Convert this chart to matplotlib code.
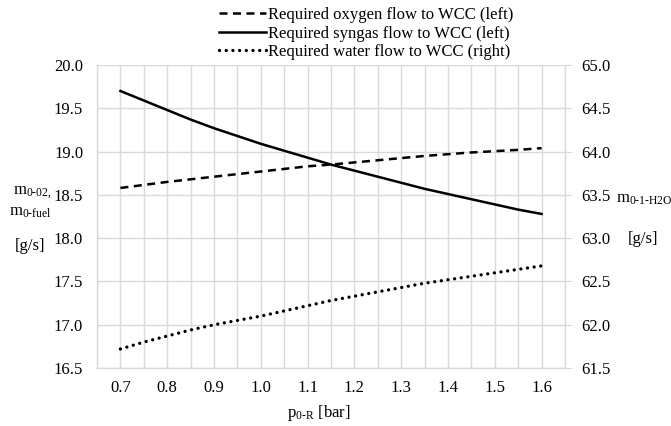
import numpy as np
import matplotlib
matplotlib.use("Agg")
import matplotlib.pyplot as plt
from matplotlib.ticker import MultipleLocator, FormatStrFormatter

plt.rcParams["font.family"] = ["Liberation Serif", "DejaVu Serif"]
plt.rcParams["mathtext.fontset"] = "custom"
plt.rcParams["mathtext.rm"] = "Liberation Serif"
plt.rcParams["mathtext.it"] = "Liberation Serif:italic"

# reactor pressure [bar]
pressure = [0.70, 0.75, 0.80, 0.85, 0.90, 0.95, 1.00, 1.05, 1.10, 1.15,
            1.20, 1.25, 1.30, 1.35, 1.40, 1.45, 1.50, 1.55, 1.60]
# mass flows [g/s]
oxygen_flow = [18.58, 18.615, 18.65, 18.68, 18.71, 18.74, 18.77, 18.80, 18.83, 18.85,
               18.875, 18.90, 18.925, 18.95, 18.97, 18.99, 19.005, 19.02, 19.04]
syngas_flow = [19.70, 19.59, 19.48, 19.37, 19.27, 19.18, 19.09, 19.01, 18.93, 18.85,
               18.78, 18.71, 18.64, 18.57, 18.51, 18.45, 18.39, 18.33, 18.28]
water_flow = [61.72, 61.80, 61.87, 61.94, 62.00, 62.05, 62.10, 62.16, 62.22, 62.28,
              62.33, 62.38, 62.43, 62.48, 62.52, 62.56, 62.60, 62.64, 62.68]

grid_c = "#D9D9D9"
fs = 12

fig = plt.figure(figsize=(6.71, 4.26), dpi=100)
ax = fig.add_axes([0.1446, 0.136, 0.6974, 0.7114])
ax2 = ax.twinx()

l1, = ax.plot(pressure, oxygen_flow, color="black", lw=1.8, linestyle=(0, (3.2, 2.2)))
l2, = ax.plot(pressure, syngas_flow, color="black", lw=1.8)
l3, = ax2.plot(pressure, water_flow, color="black", lw=2.4,
               linestyle=(0, (0.01, 2.0)), dash_capstyle="round")

ax.set_xlim(0.65, 1.65)
ax.set_ylim(16.5, 20.0)
ax2.set_ylim(61.5, 65.0)

ax.xaxis.set_minor_locator(MultipleLocator(0.05))
ax.set_xticks(np.round(np.arange(0.7, 1.61, 0.1), 2))
ax.xaxis.set_major_formatter(FormatStrFormatter("%.1f"))
ax.yaxis.set_major_locator(MultipleLocator(0.5))
ax.yaxis.set_major_formatter(FormatStrFormatter("%.1f"))
ax2.yaxis.set_major_locator(MultipleLocator(0.5))
ax2.yaxis.set_major_formatter(FormatStrFormatter("%.1f"))

ax.grid(True, which="both", axis="x", color=grid_c, lw=1.0)
ax.grid(True, which="major", axis="y", color=grid_c, lw=1.0)
ax.set_axisbelow(True)

for a in (ax, ax2):
    for s in a.spines.values():
        s.set_visible(False)
ax.spines["left"].set_visible(True)
ax.spines["bottom"].set_visible(True)
ax2.spines["right"].set_visible(True)
for s in (ax.spines["left"], ax.spines["bottom"], ax2.spines["right"]):
    s.set_color(grid_c)
    s.set_linewidth(1.0)

ax.tick_params(axis="x", which="both", length=0, pad=8.5, labelsize=fs)
ax.tick_params(axis="y", length=0, pad=10, labelsize=fs)
ax2.tick_params(axis="y", length=5, color=grid_c, pad=6.5, labelsize=fs)

# axis titles
fig.text(0.048, 0.549, r"m$_{\mathregular{0\text{-}02,}}$", fontsize=fs, ha="center", va="center")
fig.text(0.045, 0.502, r"m$_{\mathregular{0\text{-}fuel}}$", fontsize=fs, ha="center", va="center")
fig.text(0.045, 0.4225, "[g/s]", fontsize=fs, ha="center", va="center")
fig.text(0.96, 0.533, r"m$_{\mathregular{0\text{-}1\text{-}H2O}}$", fontsize=fs, ha="center", va="center")
fig.text(0.958, 0.439, "[g/s]", fontsize=fs, ha="center", va="center")
fig.text(0.475, 0.0305, r"p$_{\mathregular{0\text{-}R}}$ [bar]", fontsize=fs, ha="center", va="center")

fig.legend([l1, l2, l3],
           ["Required oxygen flow to WCC (left)",
            "Required syngas flow to WCC (left)",
            "Required water flow to WCC (right)"],
           loc="upper center", bbox_to_anchor=(0.546, 1.018), frameon=False,
           fontsize=fs, handlelength=2.8, handletextpad=0.12, labelspacing=0.14)

fig.savefig("out.png", dpi=100)
